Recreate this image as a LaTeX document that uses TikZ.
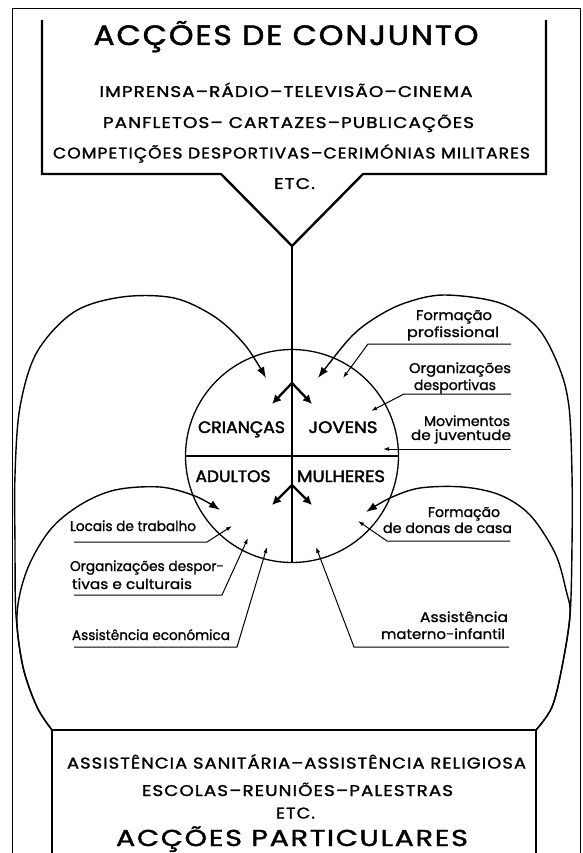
\documentclass[tikz,border=0pt]{standalone}
\usepackage{fontspec}
\setmainfont{Poppins}[FakeBold=1.2]
\newfontfamily\capsfont[LetterSpace=6,FakeBold=1.5]{Poppins}
\newfontfamily\grpfont[FakeBold=2.2]{Poppins}
\usepackage{graphicx}
\usetikzlibrary{arrows.meta}
\newlength\fitlen
\newcommand\fitw[3]{\begingroup\fontsize{#2}{#2}\selectfont\settowidth\fitlen{#3}\pgfmathsetmacro\fitsc{#1/\fitlen}\scalebox{\fitsc}[1]{#3}\endgroup}
\begin{document}
\begin{tikzpicture}[x=1pt,y=-1pt,
  frameline/.style={line width=1pt,black},
  boxline/.style={line width=2.4pt,black,line join=miter},
  lowbox/.style={line width=1.3pt,black},
  loopline/.style={line width=1.4pt,black},
  thinline/.style={line width=1pt,black},
  stemline/.style={line width=2.3pt,black},
  bighead/.style={-{Latex[length=11pt,width=8pt]}},
  armhead/.style={-{Latex[length=9pt,width=9pt]}},
  smallhead/.style={-{Latex[length=6pt,width=4pt]}},
  txt/.style={inner sep=0pt,anchor=base},
  grp/.style={inner sep=0pt,anchor=base,font=\grpfont}]
\useasboundingbox (0,0) rectangle (582,853);
\fill[white] (0,0) rectangle (582,853);
% outer frame
\draw[frameline] (12,853) -- (12,9) -- (580.5,9) -- (580.5,853);
% top box with funnel
\coordinate (vtip) at (292,246);
\draw[boxline] (42,20) -- (42,174) -- (221,174) -- (vtip) -- (363,174) -- (546,174) -- (546,20);
\node[txt] (t1) at (286,45) {\fitw{385}{28}{\capsfont ACÇÕES DE CONJUNTO}};
\node[txt] (t2) at (286,97) {\fitw{373}{15.5}{\capsfont IMPRENSA–RÁDIO–TELEVISÃO–CINEMA}};
\node[txt] (t3) at (288.5,128) {\fitw{371}{15.5}{\capsfont PANFLETOS– CARTAZES–PUBLICAÇÕES}};
\node[txt] (t4) at (291.5,158.5) {\fitw{477}{15.5}{\capsfont COMPETIÇÕES DESPORTIVAS–CERIMÓNIAS MILITARES}};
\node[txt] (t5) at (294.5,189) {\fitw{41}{15.5}{\capsfont ETC.}};
% bottom box
\draw[lowbox] (52,853) -- (52,730) -- (536,730) -- (536,853);
\node[txt] (b1) at (296.5,768.5) {\fitw{459}{15.5}{\capsfont ASSISTÊNCIA SANITÁRIA–ASSISTÊNCIA RELIGIOSA}};
\node[txt] (b2) at (297.5,796) {\fitw{311}{15.5}{\capsfont ESCOLAS–REUNIÕES–PALESTRAS}};
\node[txt] (b3) at (295.5,818.5) {\fitw{39}{15.5}{\capsfont ETC.}};
\node[txt] (b4) at (292,846) {\fitw{352}{23}{\capsfont ACÇÕES PARTICULARES}};
% circle
\node[draw,circle,line width=1.3pt,minimum size=213pt,inner sep=0pt] (circ) at (292,456) {};
\draw[loopline] (circ.west) -- (circ.east);
% stem and branches
\coordinate (brA) at (292,383);
\coordinate (brB) at (292,485);
\coordinate (cbot) at (292,562);
\draw[stemline] (vtip) -- (brB);
\draw[loopline] (brB) -- (cbot);
\coordinate (aUL) at (272,404);
\coordinate (aUR) at (312,404);
\coordinate (aLL) at (272,505);
\coordinate (aLR) at (312,505);
\draw[stemline,armhead] (brA) -- (aUL);
\draw[stemline,armhead] (brA) -- (aUR);
\draw[stemline,armhead] (brB) -- (aLL);
\draw[stemline,armhead] (brB) -- (aLR);
% group labels
\node[grp] (cri) at (241.5,433) {\fitw{87}{16.5}{\grpfont CRIANÇAS}};
\node[grp] (jov) at (343,433) {\fitw{69}{16.5}{\grpfont JOVENS}};
\node[grp] (adu) at (233,482) {\fitw{75}{16.5}{\grpfont ADULTOS}};
\node[grp] (mul) at (341,482) {\fitw{88}{16.5}{\grpfont MULHERES}};
% loops
\coordinate (cornL) at (52,730);
\coordinate (cornR) at (536,730);
\coordinate (tipCL) at (266,378);
\coordinate (tipCR) at (318,378);
\coordinate (tipLL) at (220,510);
\coordinate (tipLR) at (366,512);
\draw[loopline,bighead] plot[smooth,tension=0.55] coordinates {(cornL) (37,707) (23,667) (16,615) (15,545) (15,475) (20,407) (37,352) (74,312) (122,297) (174,298) (215,317) (245,345) (tipCL)};
\draw[loopline,bighead] plot[smooth,tension=0.55] coordinates {(cornL) (37,707) (23,667) (17,615) (27,570) (50,530) (80,505) (115,490) (160,487) (195,496) (tipLL)};
\draw[loopline,bighead] plot[smooth,tension=0.55] coordinates {(cornR) (552,707) (562,667) (570,615) (572,545) (572,475) (569,407) (559,367) (537,327) (500,303) (444,295) (405,303) (375,318) (350,338) (tipCR)};
\draw[loopline,bighead] plot[smooth,tension=0.55] coordinates {(cornR) (552,707) (562,667) (570,615) (566,590) (555,553) (530,515) (500,495) (463,487) (420,488) (390,498) (tipLR)};
% right labels and leaders
\node[txt] (fp1) at (454,320) {\fitw{76}{14}{Formação}};
\node[txt] (fp2) at (453,337) {\fitw{92}{14}{profissional}};
\draw[thinline,smallhead] (511,344) -- (368,344) -- (343,378);
\node[txt] (od1) at (460,373) {\fitw{102}{14}{Organizações}};
\node[txt] (od2) at (455,390) {\fitw{82}{14}{desportivas}};
\draw[thinline,smallhead] (511,394) -- (404,394) -- (371,411);
\node[txt] (mj1) at (467,426) {\fitw{86}{14}{Movimentos}};
\node[txt] (mj2) at (461,440) {\fitw{100}{14}{de juventude}};
\draw[thinline,smallhead] (511,449) -- (383,449);
\node[txt] (fd1) at (464,517) {\fitw{72}{14}{Formação}};
\node[txt] (fd2) at (447.5,533) {\fitw{129}{14}{de donas de casa}};
\draw[thinline,smallhead] (510,541) -- (387,541) -- (358,521);
\node[txt] (am1) at (464,622) {\fitw{88}{14}{Assistência}};
\node[txt] (am2) at (443,639) {\fitw{124}{14}{materno-infantil}};
\draw[thinline,smallhead] (509,647) -- (354,647) -- (316,547);
% left labels and leaders
\node[txt] (lt1) at (133,531) {\fitw{126}{14}{Locais de trabalho}};
\draw[thinline,smallhead] (74,542) -- (207,542) -- (232,526);
\node[txt] (oc1) at (147,571) {\fitw{154}{14}{Organizações despor-}};
\node[txt] (oc2) at (132,589) {\fitw{120}{14}{tivas e culturais}};
\draw[thinline,smallhead] (74,595) -- (222,595) -- (248,538);
\node[txt] (ae1) at (151,640) {\fitw{158}{14}{Assistência económica}};
\draw[thinline,smallhead] (74,647) -- (237,647) -- (267,547);
\end{tikzpicture}
\end{document}
